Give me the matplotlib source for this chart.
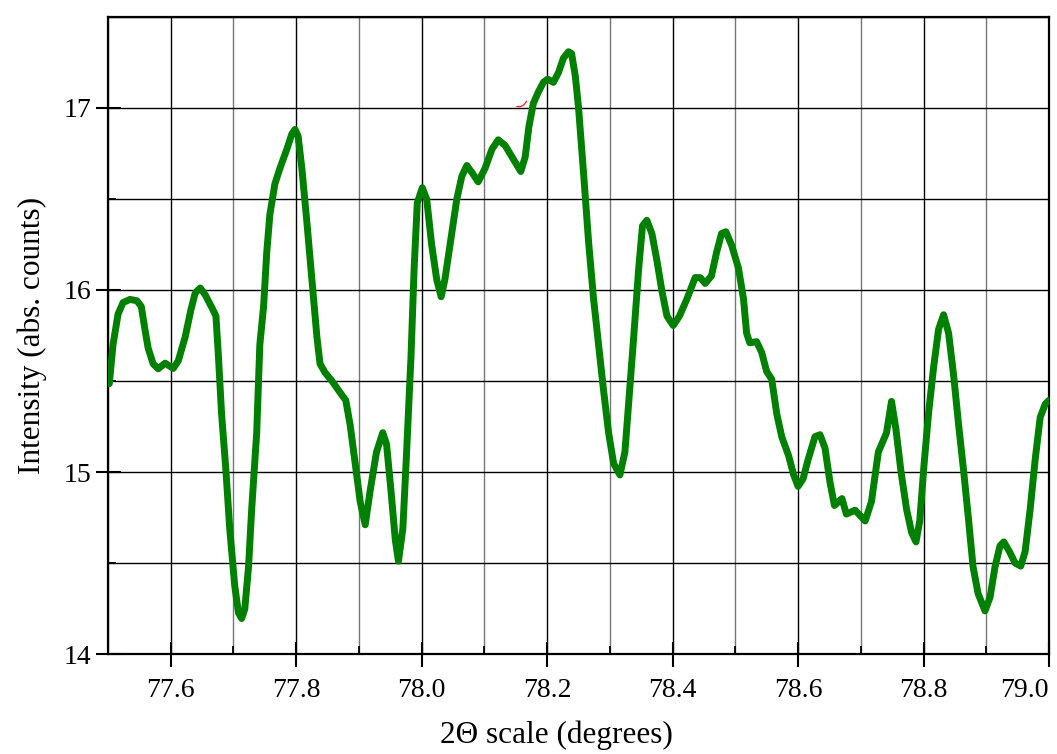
import numpy as np
import matplotlib.pyplot as plt
from matplotlib.ticker import MultipleLocator

# ── data ─────────────────────────────────────────────────────────────────────
two_theta = [
    77.502, 77.508, 77.516, 77.524, 77.535, 77.546, 77.553, 77.559, 77.564,
    77.572, 77.580, 77.591, 77.604, 77.612, 77.623, 77.632, 77.639, 77.647,
    77.655, 77.666, 77.672, 77.676, 77.681, 77.688, 77.694, 77.702, 77.708,
    77.713, 77.718, 77.724, 77.729, 77.737, 77.742, 77.748, 77.753, 77.758,
    77.766, 77.774, 77.785, 77.793, 77.798, 77.803, 77.809, 77.817, 77.825,
    77.833, 77.838, 77.846, 77.857, 77.870, 77.879, 77.886, 77.894, 77.902,
    77.910, 77.918, 77.928, 77.938, 77.944, 77.951, 77.958, 77.963, 77.970,
    77.976, 77.983, 77.988, 77.993, 78.001, 78.008, 78.016, 78.024, 78.031,
    78.037, 78.047, 78.056, 78.064, 78.072, 78.080, 78.090, 78.101, 78.112,
    78.122, 78.133, 78.146, 78.158, 78.165, 78.171, 78.178, 78.186, 78.194,
    78.201, 78.210, 78.218, 78.226, 78.234, 78.239, 78.245, 78.250, 78.258,
    78.266, 78.274, 78.282, 78.290, 78.298, 78.306, 78.316, 78.324, 78.331,
    78.338, 78.346, 78.352, 78.359, 78.367, 78.375, 78.383, 78.391, 78.401,
    78.411, 78.423, 78.436, 78.444, 78.452, 78.462, 78.470, 78.478, 78.485,
    78.494, 78.505, 78.513, 78.518, 78.523, 78.534, 78.542, 78.550, 78.558,
    78.566, 78.574, 78.585, 78.593, 78.600, 78.608, 78.616, 78.627, 78.635,
    78.643, 78.651, 78.658, 78.670, 78.677, 78.691, 78.707, 78.717, 78.728,
    78.741, 78.749, 78.756, 78.764, 78.773, 78.781, 78.788, 78.794, 78.801,
    78.808, 78.816, 78.824, 78.832, 78.840, 78.848, 78.856, 78.864, 78.872,
    78.879, 78.887, 78.898, 78.906, 78.914, 78.922, 78.928, 78.937, 78.946,
    78.955, 78.962, 78.970, 78.978, 78.986, 78.994, 79.000,
]
intensity = [
    15.485, 15.700, 15.868, 15.931, 15.948, 15.941, 15.910, 15.780, 15.680,
    15.594, 15.567, 15.598, 15.569, 15.611, 15.742, 15.889, 15.984, 16.011,
    15.973, 15.900, 15.857, 15.636, 15.321, 15.005, 14.689, 14.374, 14.226,
    14.195, 14.247, 14.479, 14.795, 15.215, 15.700, 15.910, 16.205, 16.415,
    16.583, 16.668, 16.773, 16.857, 16.882, 16.846, 16.668, 16.373, 16.057,
    15.742, 15.594, 15.546, 15.500, 15.436, 15.394, 15.258, 15.047, 14.837,
    14.710, 14.900, 15.110, 15.216, 15.152, 14.900, 14.626, 14.510, 14.689,
    15.110, 15.636, 16.120, 16.478, 16.562, 16.499, 16.247, 16.057, 15.963,
    16.057, 16.289, 16.499, 16.625, 16.684, 16.646, 16.594, 16.668, 16.773,
    16.825, 16.794, 16.720, 16.651, 16.731, 16.899, 17.025, 17.088, 17.141,
    17.158, 17.141, 17.194, 17.274, 17.309, 17.299, 17.173, 17.004, 16.646,
    16.268, 15.952, 15.700, 15.447, 15.215, 15.047, 14.984, 15.110, 15.426,
    15.742, 16.120, 16.352, 16.383, 16.310, 16.162, 15.994, 15.857, 15.805,
    15.857, 15.952, 16.068, 16.068, 16.036, 16.078, 16.205, 16.310, 16.320,
    16.247, 16.120, 15.952, 15.763, 15.710, 15.716, 15.657, 15.552, 15.510,
    15.321, 15.194, 15.089, 14.984, 14.921, 14.963, 15.068, 15.194, 15.205,
    15.131, 14.942, 14.816, 14.854, 14.769, 14.790, 14.731, 14.837, 15.110,
    15.215, 15.388, 15.236, 15.005, 14.795, 14.668, 14.616, 14.731, 15.047,
    15.321, 15.573, 15.784, 15.864, 15.763, 15.531, 15.258, 15.005, 14.731,
    14.479, 14.332, 14.237, 14.311, 14.479, 14.595, 14.616, 14.563, 14.500,
    14.483, 14.563, 14.795, 15.068, 15.300, 15.373, 15.394,
]

# short red trace just below the green curve near 78.16
red_theta = [78.152, 78.158, 78.163, 78.167]
red_intensity = [17.008, 17.008, 17.017, 17.036]

x_label = '2\u0398 scale (degrees)'
y_label = 'Intensity (abs. counts)'

# ── plot ──────────────────────────────────────────────────────────────────────
plt.rcParams['font.family'] = ['Liberation Serif', 'DejaVu Serif']

fig = plt.figure(figsize=(10.57, 7.54), dpi=100)
ax = fig.add_axes([0.1022, 0.1326, 0.8902, 0.8449])

ax.plot(two_theta, intensity, color='#008000', lw=5,
        solid_joinstyle='round', solid_capstyle='round', zorder=3)
ax.plot(red_theta, red_intensity, color='#ff2020', lw=0.9, zorder=2)

ax.set_xlim(77.5, 79.0)
ax.set_ylim(14.0, 17.5)

ax.xaxis.set_major_locator(MultipleLocator(0.2))
ax.xaxis.set_minor_locator(MultipleLocator(0.1))
ax.yaxis.set_major_locator(MultipleLocator(1.0))
ax.yaxis.set_minor_locator(MultipleLocator(0.5))
ax.xaxis.set_major_formatter(plt.FuncFormatter(lambda v, p: f'{v:.1f}'))
ax.yaxis.set_major_formatter(plt.FuncFormatter(lambda v, p: f'{v:.0f}'))

ax.grid(True, which='major', color='black', lw=1.0)
ax.grid(True, which='minor', axis='x', color='#777777', lw=1.0)
ax.grid(True, which='minor', axis='y', color='black', lw=1.0)
ax.set_axisbelow(True)

ax.tick_params(which='major', direction='inout', length=18, width=1.5,
               labelsize=20, colors='black')
ax.tick_params(which='minor', direction='in', length=6, width=1.3)
ax.tick_params(axis='x', which='major', pad=8)
ax.tick_params(axis='y', which='major', pad=3)

for s in ax.spines.values():
    s.set_linewidth(1.6)

ax.set_xlabel(x_label, fontsize=22.5, labelpad=14)
ax.set_ylabel(y_label, fontsize=22.5, labelpad=12)
ax.xaxis.set_label_coords(0.477, -0.105)

# last x label is pulled inside the figure, as in the reference
fig.canvas.draw()
for lab in ax.get_xticklabels():
    if lab.get_text() == '79.0':
        lab.set_horizontalalignment('right')

fig.savefig('out.png', dpi=100)
